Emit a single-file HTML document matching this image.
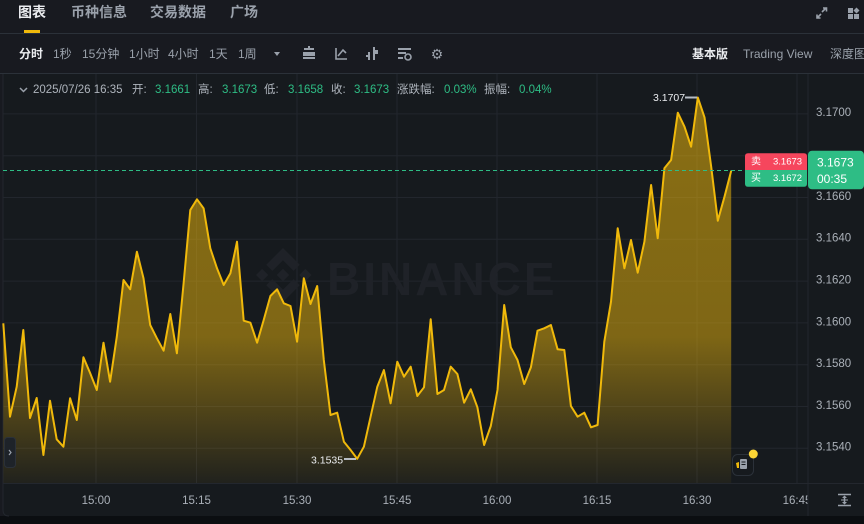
<!DOCTYPE html>
<html><head><meta charset="utf-8">
<style>
html,body{margin:0;padding:0;background:#181a20;}
body{width:864px;height:524px;overflow:hidden;font-family:"Liberation Sans","Noto Sans CJK SC",sans-serif;}
svg{display:block;}
</style></head>
<body>
<svg width="864" height="524" viewBox="0 0 864 524" xmlns="http://www.w3.org/2000/svg" font-family="Liberation Sans, Noto Sans CJK SC, sans-serif">
<defs>
<linearGradient id="fillg" gradientUnits="userSpaceOnUse" x1="0" y1="97" x2="0" y2="483">
<stop offset="0" stop-color="#f0b90b" stop-opacity="0.53"/>
<stop offset="0.62" stop-color="#f0b90b" stop-opacity="0.48"/>
<stop offset="1" stop-color="#f0b90b" stop-opacity="0.05"/>
</linearGradient>
</defs>
<rect x="0" y="0" width="864" height="524" fill="#181a20"/>
<rect x="3" y="74" width="861" height="442" fill="#161a1e"/>
<rect x="0" y="516" width="864" height="8" fill="#0b0e11"/>
<path d="M3 74 V510 Q3 516 9 516" fill="none" stroke="#23272e" stroke-width="1"/>

<text x="18" y="12" dominant-baseline="central" font-size="14" font-weight="bold" fill="#eaecef">图表</text>
<text x="71" y="12" dominant-baseline="central" font-size="14" font-weight="bold" fill="#9aa1ab">币种信息</text>
<text x="150" y="12" dominant-baseline="central" font-size="14" font-weight="bold" fill="#9aa1ab">交易数据</text>
<text x="230" y="12" dominant-baseline="central" font-size="14" font-weight="bold" fill="#9aa1ab">广场</text>
<rect x="24" y="30" width="16" height="3" fill="#f0b90b"/>
<line x1="0" y1="33.5" x2="864" y2="33.5" stroke="#2b3139" stroke-width="1"/>
<g stroke="#9aa1ab" stroke-width="1.6" fill="none">
<path d="M822 12 L826 8 M823 8 H826.5 V11.5"/>
<path d="M821 14 L817 18 M817 14.5 V18 H820.5"/>
</g>
<g fill="#9aa1ab">
<rect x="848" y="8" width="5" height="5"/>
<rect x="848" y="14" width="5" height="5"/>
<rect x="854" y="14" width="5" height="5"/>
<path d="M856.5 7.5 L859.5 10.5 L856.5 13.5 L853.5 10.5Z"/>
</g>

<text x="19" y="54" dominant-baseline="central" font-size="12" font-weight="bold" fill="#eaecef">分时</text>
<text x="53" y="54" dominant-baseline="central" font-size="12" fill="#9aa1ab">1秒</text>
<text x="82" y="54" dominant-baseline="central" font-size="12" fill="#9aa1ab">15分钟</text>
<text x="129" y="54" dominant-baseline="central" font-size="12" fill="#9aa1ab">1小时</text>
<text x="168" y="54" dominant-baseline="central" font-size="12" fill="#9aa1ab">4小时</text>
<text x="209" y="54" dominant-baseline="central" font-size="12" fill="#9aa1ab">1天</text>
<text x="238" y="54" dominant-baseline="central" font-size="12" fill="#9aa1ab">1周</text>
<path d="M274 52 L280 52 L277 56Z" fill="#9aa1ab"/>
<g fill="#9aa1ab">
<rect x="304" y="48" width="10" height="2"/>
<rect x="303" y="52" width="12" height="4"/>
<rect x="303" y="57" width="12" height="2"/>
<rect x="308" y="46" width="2" height="3"/>
</g>
<g stroke="#9aa1ab" stroke-width="1.6" fill="none">
<path d="M336 48 V59 H347"/>
<path d="M338 56 L343 50 L346 53"/>
</g>
<g fill="#9aa1ab">
<rect x="368" y="52" width="2" height="8"/>
<rect x="366" y="55" width="3" height="2"/>
<rect x="373" y="47" width="2" height="13"/>
<rect x="375" y="50" width="3" height="4"/>
</g>
<g fill="#9aa1ab">
<rect x="398" y="48" width="13" height="2"/>
<rect x="398" y="52" width="8" height="2"/>
<rect x="398" y="57" width="5" height="2"/>
<circle cx="408" cy="57" r="3" fill="none" stroke="#9aa1ab" stroke-width="1.6"/>
</g>
<text x="437" y="54" dominant-baseline="central" text-anchor="middle" font-size="14" fill="#9aa1ab">⚙</text>
<text x="692" y="54" dominant-baseline="central" font-size="12" font-weight="bold" fill="#eaecef">基本版</text>
<text x="743" y="54" dominant-baseline="central" font-size="12" fill="#9aa1ab">Trading View</text>
<text x="830" y="54" dominant-baseline="central" font-size="12" fill="#9aa1ab">深度图</text>
<line x1="0" y1="73.5" x2="864" y2="73.5" stroke="#2b3139" stroke-width="1"/>

<g stroke="#22262d" stroke-width="1">
<line x1="96" y1="74" x2="96" y2="483"/>
<line x1="196.5" y1="74" x2="196.5" y2="483"/>
<line x1="297" y1="74" x2="297" y2="483"/>
<line x1="397" y1="74" x2="397" y2="483"/>
<line x1="497" y1="74" x2="497" y2="483"/>
<line x1="597" y1="74" x2="597" y2="483"/>
<line x1="697" y1="74" x2="697" y2="483"/>
<line x1="797" y1="74" x2="797" y2="483"/>
<line x1="3" y1="113.9" x2="808" y2="113.9"/>
<line x1="3" y1="155.7" x2="808" y2="155.7"/>
<line x1="3" y1="197.5" x2="808" y2="197.5"/>
<line x1="3" y1="239.3" x2="808" y2="239.3"/>
<line x1="3" y1="281.1" x2="808" y2="281.1"/>
<line x1="3" y1="322.9" x2="808" y2="322.9"/>
<line x1="3" y1="364.7" x2="808" y2="364.7"/>
<line x1="3" y1="406.5" x2="808" y2="406.5"/>
<line x1="3" y1="448.3" x2="808" y2="448.3"/>
</g>

<g transform="translate(256,248) scale(0.43)" fill="#1f2228">
<path d="M38.171 53.203L62.759 28.616l24.6 24.6 14.306-14.307L62.759 0 23.864 38.896l14.307 14.307zM0 62.759l14.307-14.307 14.306 14.307-14.306 14.306L0 62.759zm38.171 9.556l24.588 24.588 24.6-24.6 14.307 14.3-.007.007-38.9 38.906L23.864 86.632l-.02-.02 14.327-14.297zm62.253-9.553l14.307-14.307L129.038 62.76l-14.307 14.307-14.307-14.306zM77.27 62.752h.007L62.759 48.233 52.034 58.958l-1.232 1.233-2.540 2.540-.020.020.020.021 14.497 14.497 14.519-14.518.007-.008-.013-.007z"/>
</g>
<text x="327" y="295" font-size="46" font-weight="bold" letter-spacing="3" fill="#1f2228">BINANCE</text>

<path d="M20 88 L23.5 91.5 L27 88" stroke="#9aa1ab" stroke-width="1.5" fill="none"/>
<g font-size="11.5" dominant-baseline="central">
<text x="33" y="90" fill="#aeb4bc">2025/07/26 16:35</text>
<text x="132" y="90" fill="#aeb4bc">开:</text>
<text x="155" y="90" fill="#2ebd85">3.1661</text>
<text x="198" y="90" fill="#aeb4bc">高:</text>
<text x="222" y="90" fill="#2ebd85">3.1673</text>
<text x="264" y="90" fill="#aeb4bc">低:</text>
<text x="288" y="90" fill="#2ebd85">3.1658</text>
<text x="331" y="90" fill="#aeb4bc">收:</text>
<text x="354" y="90" fill="#2ebd85">3.1673</text>
<text x="397" y="90" fill="#aeb4bc">涨跌幅:</text>
<text x="444" y="90" fill="#2ebd85">0.03%</text>
<text x="484" y="90" fill="#aeb4bc">振幅:</text>
<text x="519" y="90" fill="#2ebd85">0.04%</text>
</g>

<polygon fill="url(#fillg)" points="3.3,483 3.3,323.3 10,416.7 16.7,386.7 23.3,330 30,418 36.7,398 43.4,455 50,400.7 56.7,439.3 63.4,446.7 70.1,398.3 76.8,420 83.4,357.3 90.1,373 96.8,390 103.5,342.7 110.1,381.7 116.8,336.7 123.5,280 130.2,289.3 136.9,251.7 143.5,278.3 150.2,325 156.9,338.3 163.6,350.7 170.3,314 176.9,353.3 183.6,283.3 190.3,210 197,199.3 203.6,208.3 210.3,248.3 217,268.3 223.7,285 230.4,273.3 237,241.7 243.7,320.7 250.4,322.7 257.1,342.7 263.7,320 270.4,296 277.1,289.3 283.8,303.3 290.5,306 297.1,341.7 303.8,278.3 310.5,304 317.2,286 323.8,360 330.5,415 337.2,412.7 343.9,441.7 350.6,450 357.2,458.8 363.9,446.7 370.6,416.7 377.3,386.7 383.9,370 390.6,403.3 397.3,361.7 404,376.7 410.7,366.7 417.3,396 424,387.3 430.7,319.3 437.4,394 444,390 450.7,366.7 457.4,374 464.1,402.7 470.8,389.3 477.4,407.3 484.1,445 490.8,426 497.5,390 504.2,305 510.8,347.3 517.5,360 524.2,384 530.9,367.3 537.5,330.7 544.2,328.3 550.9,325 557.6,349.3 564.3,350 570.9,406 577.6,416.7 584.3,412.7 591,427.3 597.6,425 604.3,341.7 611,301.7 617.7,228.3 624.4,268.3 631,240 637.7,272.7 644.4,241.7 651.1,185 657.7,238.3 664.4,168.3 671.1,160 677.8,112.7 684.5,126.7 691.1,146.7 697.8,97.5 704.5,117.3 711.2,166.7 717.8,220.7 724.5,196.7 731.2,170.7 731.2,483"/>
<polyline fill="none" stroke="#f0b90b" stroke-width="2" stroke-linejoin="round" points="3.3,323.3 10,416.7 16.7,386.7 23.3,330 30,418 36.7,398 43.4,455 50,400.7 56.7,439.3 63.4,446.7 70.1,398.3 76.8,420 83.4,357.3 90.1,373 96.8,390 103.5,342.7 110.1,381.7 116.8,336.7 123.5,280 130.2,289.3 136.9,251.7 143.5,278.3 150.2,325 156.9,338.3 163.6,350.7 170.3,314 176.9,353.3 183.6,283.3 190.3,210 197,199.3 203.6,208.3 210.3,248.3 217,268.3 223.7,285 230.4,273.3 237,241.7 243.7,320.7 250.4,322.7 257.1,342.7 263.7,320 270.4,296 277.1,289.3 283.8,303.3 290.5,306 297.1,341.7 303.8,278.3 310.5,304 317.2,286 323.8,360 330.5,415 337.2,412.7 343.9,441.7 350.6,450 357.2,458.8 363.9,446.7 370.6,416.7 377.3,386.7 383.9,370 390.6,403.3 397.3,361.7 404,376.7 410.7,366.7 417.3,396 424,387.3 430.7,319.3 437.4,394 444,390 450.7,366.7 457.4,374 464.1,402.7 470.8,389.3 477.4,407.3 484.1,445 490.8,426 497.5,390 504.2,305 510.8,347.3 517.5,360 524.2,384 530.9,367.3 537.5,330.7 544.2,328.3 550.9,325 557.6,349.3 564.3,350 570.9,406 577.6,416.7 584.3,412.7 591,427.3 597.6,425 604.3,341.7 611,301.7 617.7,228.3 624.4,268.3 631,240 637.7,272.7 644.4,241.7 651.1,185 657.7,238.3 664.4,168.3 671.1,160 677.8,112.7 684.5,126.7 691.1,146.7 697.8,97.5 704.5,117.3 711.2,166.7 717.8,220.7 724.5,196.7 731.2,170.7"/>

<text x="653" y="98" dominant-baseline="central" font-size="10.5" fill="#eaecef">3.1707</text>
<line x1="685" y1="97.5" x2="697" y2="97.5" stroke="#b7bdc6" stroke-width="2"/>
<text x="311" y="460.5" dominant-baseline="central" font-size="10.5" fill="#eaecef">3.1535</text>
<line x1="344" y1="459" x2="356" y2="459" stroke="#b7bdc6" stroke-width="2"/>

<line x1="3" y1="170.5" x2="745" y2="170.5" stroke="#2ebd85" stroke-width="1" stroke-dasharray="4 3"/>

<rect x="4.5" y="437.5" width="11" height="30" rx="3" fill="#1e2329" stroke="#2b3139"/>
<path d="M9 450 L11 452.5 L9 455" stroke="#9aa1ab" stroke-width="1.2" fill="none"/>

<rect x="732.5" y="454.5" width="21" height="21" rx="5" fill="#161a1e" stroke="#2b3139"/>
<rect x="740" y="459" width="7" height="10" rx="1" fill="#9aa1ab"/>
<rect x="741.5" y="461.5" width="4" height="1" fill="#161a1e"/>
<rect x="741.5" y="464" width="4" height="1" fill="#161a1e"/>
<path d="M736 463 L739 462 L739 468 L737 468Z" fill="#f0b90b"/>
<circle cx="753.3" cy="454" r="4.5" fill="#fcd535"/>

<line x1="3" y1="483.5" x2="864" y2="483.5" stroke="#23272e" stroke-width="1"/>
<g font-size="11.5" fill="#aab0b8" text-anchor="middle" dominant-baseline="central">
<text x="96" y="501">15:00</text>
<text x="196.5" y="501">15:15</text>
<text x="297" y="501">15:30</text>
<text x="397" y="501">15:45</text>
<text x="497" y="501">16:00</text>
<text x="597" y="501">16:15</text>
<text x="697" y="501">16:30</text>
<text x="797" y="501">16:45</text>
</g>

<rect x="808" y="74" width="56" height="442" fill="#161a1e"/>
<line x1="808" y1="74" x2="808" y2="516" stroke="#23272e" stroke-width="1"/>
<line x1="808" y1="483.5" x2="864" y2="483.5" stroke="#23272e" stroke-width="1"/>
<g font-size="11.5" fill="#aab0b8" dominant-baseline="central">
<text x="816" y="113">3.1700</text>
<text x="816" y="197">3.1660</text>
<text x="816" y="238.5">3.1640</text>
<text x="816" y="280.5">3.1620</text>
<text x="816" y="322.5">3.1600</text>
<text x="816" y="364">3.1580</text>
<text x="816" y="406">3.1560</text>
<text x="816" y="447.5">3.1540</text>
</g>
<g stroke="#9aa1ab" stroke-width="1.5" fill="none">
<line x1="838" y1="494.5" x2="851" y2="494.5"/>
<line x1="838" y1="505.5" x2="851" y2="505.5"/>
<line x1="844.5" y1="496" x2="844.5" y2="504"/>
</g>
<path d="M842 498 L844.5 495.5 L847 498Z M842 502 L844.5 504.5 L847 502Z" fill="#9aa1ab"/>
<rect x="841" y="499.5" width="7" height="1" fill="#9aa1ab"/>

<rect x="808" y="150.7" width="56" height="38.6" rx="4" fill="#2ebd85"/>
<text x="817" y="162.5" dominant-baseline="central" font-size="12" fill="#ffffff">3.1673</text>
<text x="817" y="179" dominant-baseline="central" font-size="12" fill="#ffffff">00:35</text>

<path d="M748 153.3 H804 Q807 153.3 807 156.3 V170 H745 V156.3 Q745 153.3 748 153.3Z" fill="#f6465d"/>
<path d="M745 170 H807 V183.7 Q807 186.7 804 186.7 H748 Q745 186.7 745 183.7Z" fill="#2ebd85"/>
<text x="751" y="161.8" dominant-baseline="central" font-size="10" fill="#ffffff">卖</text>
<text x="773" y="161.8" dominant-baseline="central" font-size="9.5" fill="#ffffff">3.1673</text>
<text x="751" y="178.3" dominant-baseline="central" font-size="10" fill="#ffffff">买</text>
<text x="773" y="178.3" dominant-baseline="central" font-size="9.5" fill="#ffffff">3.1672</text>
</svg>
</body></html>
